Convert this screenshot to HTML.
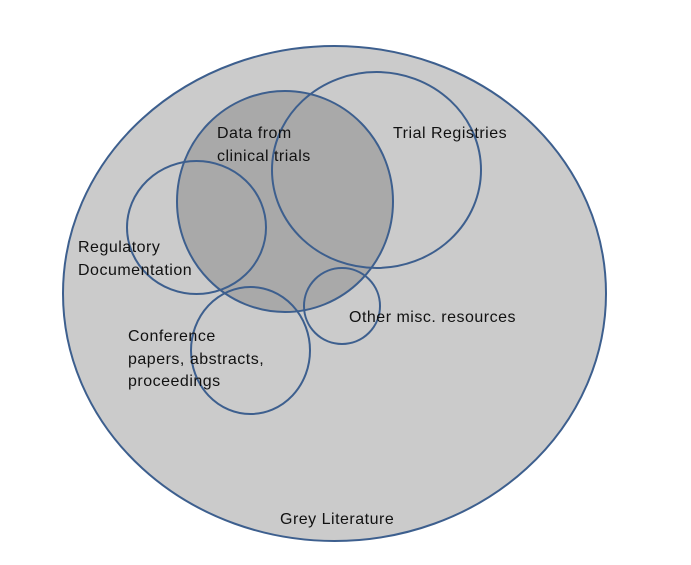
<!DOCTYPE html>
<html><head><style>
html,body{margin:0;padding:0;background:#fff;width:691px;height:565px;overflow:hidden}
svg text{font-family:"Liberation Sans",sans-serif;font-size:16px;letter-spacing:0.5px;fill:#111}
</style></head><body>
<svg width="691" height="565" xmlns="http://www.w3.org/2000/svg">
<g stroke="#3d5f8e" stroke-width="2">
<ellipse cx="334.5" cy="293.5" rx="271.5" ry="247.5" fill="#cbcbcb"/>
<ellipse cx="285" cy="201.5" rx="108" ry="110.5" fill="#a9a9a9"/>
<ellipse cx="376.5" cy="170" rx="104.5" ry="98" fill="none"/>
<ellipse cx="196.5" cy="227.5" rx="69.5" ry="66.5" fill="none"/>
<ellipse cx="250.5" cy="350.5" rx="59.5" ry="63.5" fill="none"/>
<ellipse cx="342" cy="306" rx="38" ry="38" fill="none"/>
</g>
<text x="217" y="138">Data from</text>
<text x="217" y="161">clinical trials</text>
<text x="393" y="138">Trial Registries</text>
<text x="78" y="252">Regulatory</text>
<text x="78" y="275">Documentation</text>
<text x="128" y="341">Conference</text>
<text x="128" y="364">papers, abstracts,</text>
<text x="128" y="386">proceedings</text>
<text x="349" y="322">Other misc. resources</text>
<text x="280" y="524">Grey Literature</text>
</svg>
</body></html>
